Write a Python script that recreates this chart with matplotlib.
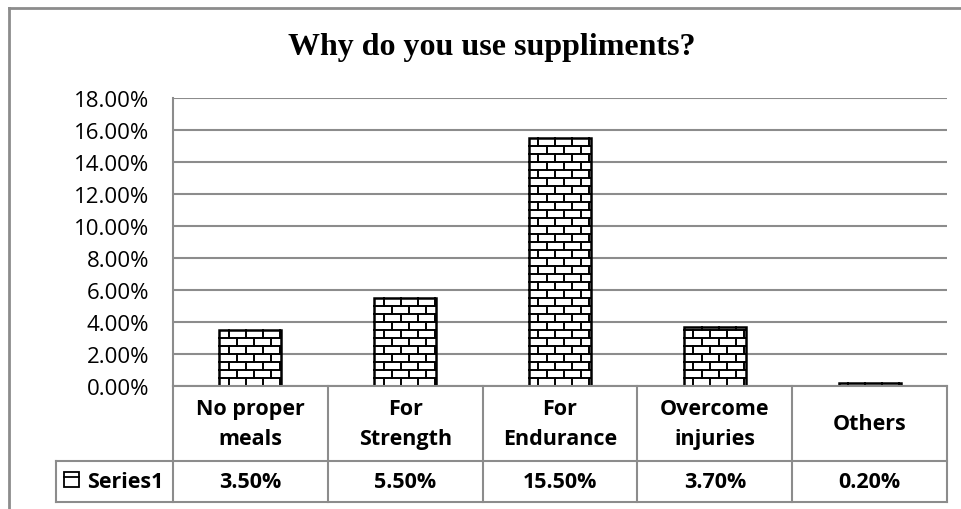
import numpy as np
import matplotlib.pyplot as plt
from matplotlib.patches import Rectangle
from matplotlib.lines import Line2D

categories = ["No proper\nmeals", "For\nStrength", "For\nEndurance", "Overcome\ninjuries", "Others"]
values = [3.50, 5.50, 15.50, 3.70, 0.20]
series_name = "Series1"
title = "Why do you use suppliments?"

GRAY = "#8c8c8c"
FONT = "Open Sans"
W, H = 962, 510

fig = plt.figure(figsize=(W / 100, H / 100), dpi=100)
ax = fig.add_axes([173 / W, 1 - 387 / H, 774 / W, 288 / H])

x = np.arange(len(categories))
bars = ax.bar(x, values, width=0.40, color="white", edgecolor="black", linewidth=1.8, zorder=3)

# brick texture, clipped to each bar
row_h = 0.5          # in % units (~8 px)
brick_w = 0.11       # in category units (~17 px)
for b in bars:
    x0, w, h = b.get_x(), b.get_width(), b.get_height()
    y = row_h
    while y < h:
        ax.add_line(Line2D([x0, x0 + w], [y, y], color="black", lw=1.4, zorder=4, clip_path=b))
        y += row_h
    n = 0
    y = 0.0
    while y < h:
        off = brick_w * 0.55 if n % 2 == 0 else brick_w * 1.05
        xs = x0 + off
        while xs < x0 + w:
            ax.add_line(Line2D([xs, xs], [y, min(y + row_h, h)], color="black", lw=1.4,
                               zorder=4, clip_path=b))
            xs += brick_w
        y += row_h
        n += 1

ax.set_xlim(-0.5, len(categories) - 0.5)
ax.set_ylim(0, 18)
ax.set_yticks(np.arange(0, 19, 2))
ax.set_yticklabels([f"{v:.2f}%" for v in np.arange(0, 19, 2)], fontsize=16, family=FONT)
ax.tick_params(axis="y", length=0, pad=17)
ax.set_xticks([])
ax.grid(axis="y", color=GRAY, lw=1.5, zorder=0)
for s in ["top", "right", "bottom"]:
    ax.spines[s].set_visible(False)
ax.spines["left"].set_color(GRAY)
ax.spines["left"].set_linewidth(1.5)

# data table under the axis
tr = ax.get_xaxis_transform()
y_head, y_val = -0.259, -0.402
x_left = -1.258
n = len(categories)
lk = dict(color=GRAY, lw=1.5, transform=tr, clip_on=False, zorder=5)
ax.add_line(Line2D([-0.5, n - 0.5], [0, 0], **lk))
ax.add_line(Line2D([x_left, n - 0.5], [y_head, y_head], **lk))
ax.add_line(Line2D([x_left, n - 0.5], [y_val, y_val], **lk))
for xv in np.arange(-0.5, n, 1.0):
    ax.add_line(Line2D([xv, xv], [0, y_val], **lk))
ax.add_line(Line2D([x_left, x_left], [y_head, y_val], **lk))

for i, (c, v) in enumerate(zip(categories, values)):
    ax.text(i, y_head / 2, c, transform=tr, ha="center", va="center", fontsize=15.5,
            fontweight="bold", family=FONT, linespacing=1.55)
    ax.text(i, (y_head + y_val) / 2, f"{v:.2f}%", transform=tr, ha="center", va="center",
            fontsize=15.5, fontweight="bold", family=FONT)

# legend key + series name
fig.add_artist(Rectangle((64 / W, 1 - 488 / H), 15 / W, 15 / H, facecolor="white",
                         edgecolor="black", lw=1.3, transform=fig.transFigure))
fig.add_artist(Line2D([64 / W, 79 / W], [1 - 478 / H, 1 - 478 / H], color="black", lw=1.3,
                      transform=fig.transFigure))
ax.text(-0.5 - 0.06, (y_head + y_val) / 2, series_name, transform=tr, ha="right", va="center",
        fontsize=15.5, fontweight="bold", family=FONT)

fig.text(491.5 / W, 1 - 47 / H, title, ha="center", va="center", fontsize=23,
         fontweight="bold", family="Liberation Serif")

# chart area border
fig.add_artist(Line2D([9 / W, 9 / W], [0, 1 - 9 / H], color=GRAY, lw=2, transform=fig.transFigure))
fig.add_artist(Line2D([9 / W, 1], [1 - 9 / H, 1 - 9 / H], color=GRAY, lw=2, transform=fig.transFigure))

fig.savefig("out.png", dpi=100)
